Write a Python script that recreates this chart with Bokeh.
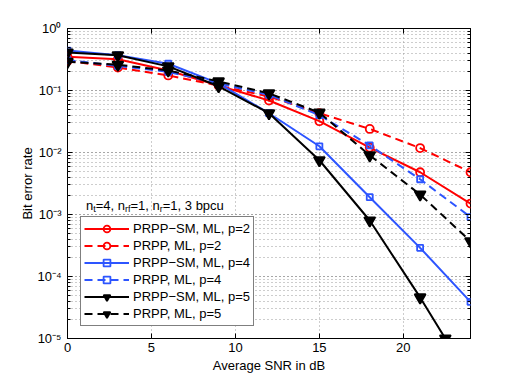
from bokeh.plotting import figure
from bokeh.models import (LogAxis, LinearAxis, FixedTicker, LogTicker, CustomJSTickFormatter,
                          Legend, LegendItem, Label, Range1d)
from bokeh.embed import file_html
from bokeh.resources import INLINE

# ---------------- data ----------------
snr = [0, 3, 6, 9, 12, 15, 18, 21, 24]
snr_sm_p5 = [0, 3, 6, 9, 12, 15, 18, 21, 22.5]

ber_sm_p2 = [0.35, 0.32, 0.21, 0.12, 0.069, 0.032, 0.012, 0.0048, 0.0015]
ber_pp_p2 = [0.30, 0.235, 0.175, 0.12, 0.08, 0.043, 0.024, 0.0118, 0.0048]
ber_sm_p4 = [0.44, 0.37, 0.27, 0.13, 0.043, 0.0126, 0.0019, 0.00029, 3.9e-5]
ber_pp_p4 = [0.31, 0.25, 0.20, 0.13, 0.085, 0.040, 0.013, 0.0037, 0.00091]
ber_sm_p5 = [0.41, 0.37, 0.245, 0.117, 0.043, 0.0075, 0.0008, 4.6e-5, 1.0e-5]
ber_pp_p5 = [0.29, 0.26, 0.21, 0.14, 0.09, 0.044, 0.009, 0.0021, 0.00037]

series_labels = ["PRPP\u2212SM, ML, p=2", "PRPP, ML, p=2",
                 "PRPP\u2212SM, ML, p=4", "PRPP, ML, p=4",
                 "PRPP\u2212SM, ML, p=5", "PRPP, ML, p=5"]

x_ticks = [0, 5, 10, 15, 20]
y_tick_values = [1e-5, 1e-4, 1e-3, 1e-2, 1e-1, 1]
y_tick_labels = ["10\u207b\u2075", "10\u207b\u2074", "10\u207b\u00b3", "10\u207b\u00b2", "10\u207b\u00b9", "10\u2070"]
x_label = "Average SNR in dB"
y_label = "Bit error rate"
annotation_pieces = [("n", False), ("t", True), ("=4, n", False), ("rf", True),
                     ("=1, n", False), ("r", True), ("=1, 3 bpcu", False)]

# ---------------- style ----------------
FONT = "Liberation Sans"
FS = 13
SUB_FS = 9
RED = "#ff0000"
BLUE = "#2d55ff"
BLACK = "#000000"
DASH = "8 5"
GRID = "#9a9a9a"

p = figure(width=515, height=378, y_axis_type="log",
           x_range=Range1d(0, 24), y_range=Range1d(1e-5, 1),
           output_backend="svg", toolbar_location=None,
           min_border_left=67, min_border_right=45, min_border_top=28, min_border_bottom=40)
p.outline_line_color = "black"
p.outline_line_width = 1
p.background_fill_color = "white"

# grids
p.xgrid.ticker = FixedTicker(ticks=x_ticks)
p.xgrid.grid_line_color = GRID
p.xgrid.grid_line_dash = "1 3"
p.ygrid.grid_line_color = GRID
p.ygrid.grid_line_dash = "1 3"
p.ygrid.minor_grid_line_color = GRID
p.ygrid.minor_grid_line_dash = "1 3"

ylab_fmt = CustomJSTickFormatter(args=dict(vals=y_tick_values, labs=y_tick_labels), code="""
for (let i = 0; i < vals.length; i++) {
  if (Math.abs(Math.log10(tick) - Math.log10(vals[i])) < 1e-6) { return labs[i]; }
}
return '';
""")
empty_fmt = CustomJSTickFormatter(code="return '';")


def style_axis(ax):
    ax.axis_line_color = None
    ax.major_tick_in = 5
    ax.major_tick_out = 0
    ax.minor_tick_in = 3
    ax.minor_tick_out = 0
    ax.major_tick_line_color = "black"
    ax.minor_tick_line_color = "black"
    ax.major_label_text_font = FONT
    ax.major_label_text_font_size = f"{FS}px"
    ax.major_label_text_color = "black"
    ax.axis_label_text_font = FONT
    ax.axis_label_text_font_size = f"{FS}px"
    ax.axis_label_text_font_style = "normal"
    ax.axis_label_text_color = "black"


# bottom x axis
xa = p.xaxis[0]
style_axis(xa)
xa.ticker = FixedTicker(ticks=x_ticks)
xa.minor_tick_line_color = None
xa.axis_label = x_label
xa.major_label_standoff = 4
xa.axis_label_standoff = 3

# left y axis
ya = p.yaxis[0]
style_axis(ya)
ya.ticker = LogTicker(num_minor_ticks=10)
ya.formatter = ylab_fmt
ya.axis_label = y_label
ya.major_label_standoff = 6
ya.axis_label_standoff = -1

# mirror axes
top = LinearAxis(ticker=FixedTicker(ticks=x_ticks), formatter=empty_fmt)
style_axis(top)
top.minor_tick_line_color = None
p.add_layout(top, "above")
right = LogAxis(ticker=LogTicker(num_minor_ticks=10), formatter=empty_fmt)
style_axis(right)
p.add_layout(right, "right")

# ---------------- series ----------------
series = [
    (snr, ber_sm_p2, RED, "solid", "circle", 8, False),
    (snr, ber_pp_p2, RED, DASH, "circle", 8, False),
    (snr, ber_sm_p4, BLUE, "solid", "square", 6, False),
    (snr, ber_pp_p4, BLUE, DASH, "square", 6, False),
    (snr_sm_p5, ber_sm_p5, BLACK, "solid", "inverted_triangle", 11, True),
    (snr, ber_pp_p5, BLACK, DASH, "inverted_triangle", 11, True),
]

items = []
for (xs, ys, col, dash, marker, size, filled), lab in zip(series, series_labels):
    lr = p.line(xs, ys, line_color=col, line_width=2, line_dash=dash)
    sr = p.scatter(xs, ys, marker=marker, size=size, line_color=col, line_width=1.8,
                   fill_color=col if filled else None)
    items.append(LegendItem(label=lab, renderers=[lr, sr]))

legend = Legend(items=items, location=(13, 12))
legend.label_text_font = FONT
legend.label_text_font_size = f"{FS}px"
legend.label_text_color = "black"
legend.glyph_width = 45
legend.glyph_height = 17
legend.label_height = 17
legend.label_standoff = 4
legend.spacing = 0
legend.padding = 3
legend.margin = 0
legend.border_line_color = "black"
legend.border_line_width = 1
legend.background_fill_color = "white"
legend.background_fill_alpha = 1.0
p.add_layout(legend)

# ---------------- annotation with subscripts ----------------
ARIAL = {"n": 556, "=": 584, "4": 556, ",": 278, " ": 278, "1": 556, "3": 556,
         "b": 556, "p": 556, "c": 500, "u": 556, "t": 278, "r": 333, "f": 278}
ANN_X = 1.1      # dB
ANN_Y = 1.4e-3   # BER level of text centre
off = 0.0
for txt, sub in annotation_pieces:
    fs = SUB_FS if sub else FS
    p.add_layout(Label(x=ANN_X, y=ANN_Y, x_offset=off, y_offset=-4 if sub else 0,
                       text=txt, text_font=FONT, text_font_size=f"{fs}px",
                       text_baseline="middle", text_align="left", text_color="black"))
    off += sum(ARIAL[c] for c in txt) / 1000.0 * fs

open("out.html", "w").write(file_html(p, INLINE))
